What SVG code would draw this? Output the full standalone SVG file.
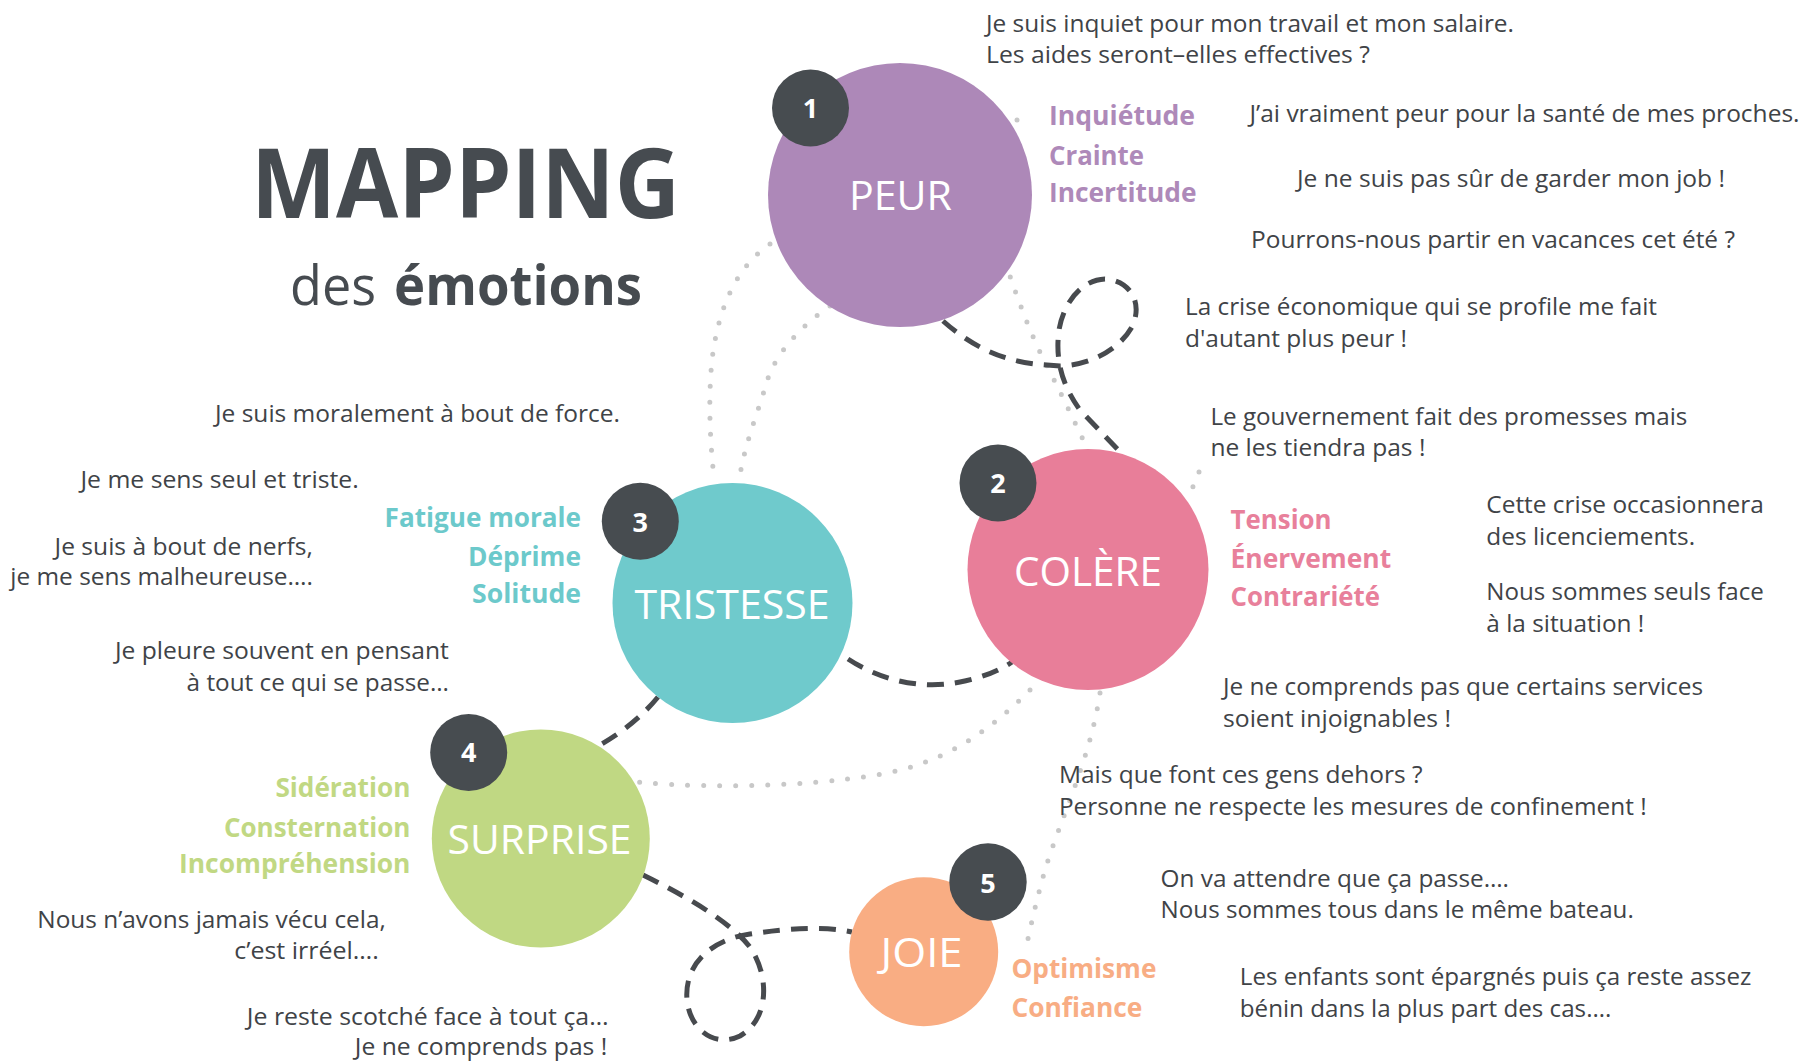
<svg xmlns="http://www.w3.org/2000/svg" width="1805" height="1061" viewBox="0 0 1805 1061">
<style>
text{font-family:"Open Sans","Liberation Sans",sans-serif}
.t{font-size:23px;fill:#404347}
.lb{font-size:26px;font-weight:700}
.cl{font-size:40px;fill:#ffffff;text-anchor:middle}
.num{font-size:27px;font-weight:700;fill:#ffffff;text-anchor:middle}
.badge{fill:#474C50}
.dash{fill:none;stroke:#474A4E;stroke-width:5;stroke-dasharray:17 11}
.dot{fill:none;stroke:#C8C8C8;stroke-width:5;stroke-linecap:round;stroke-dasharray:0 16}
.e{text-anchor:end}
.pu{fill:#AE89B9}.pk{fill:#E8809B}.tl{fill:#6CC9CB}.gr{fill:#C1D883}.or{fill:#F8AD84}
</style>
<rect width="1805" height="1061" fill="#ffffff"/>

<g id="title">
<text x="251" y="218" font-size="96" font-weight="700" fill="#464B50" textLength="429" lengthAdjust="spacingAndGlyphs">MAPPING</text>
<text x="290" y="305" font-size="55" fill="#464B50" textLength="86" lengthAdjust="spacingAndGlyphs">des</text>
<text x="394" y="305" font-size="55" font-weight="700" fill="#464B50" textLength="248" lengthAdjust="spacingAndGlyphs">émotions</text>
</g>

<g id="connectors">
<path class="dot" d="M 770 244 C 735 268 718 310 712 360 C 708 400 710 440 714 478"/>
<path class="dot" d="M 830 306 C 795 330 772 360 766 385 C 755 420 745 445 740 475"/>
<path class="dot" d="M 1005 262 C 1015 290 1028 330 1047 366 C 1062 395 1076 425 1088 450"/>
<path class="dot" d="M 1017 120 L 1022 134"/>
<path class="dot" d="M 1199 472 L 1190 494"/>
<path class="dot" d="M 1030 690 C 1000 720 960 755 900 770 C 840 785 720 790 636 782"/>
<path class="dot" d="M 1100 693 C 1090 760 1060 820 1045 870 C 1035 905 1030 930 1026 948"/>
<path class="dash" d="M 943 321 C 970 345 1000 360 1035 364 L 1060 366 C 1090 365 1120 350 1133 325 C 1143 300 1128 280 1105 279 C 1080 280 1063 305 1059 330 C 1055 360 1062 385 1080 410 L 1124 456"/>
<path class="dash" d="M 848 659 C 880 680 920 690 960 682 C 985 677 1000 670 1012 662"/>
<path class="dash" d="M 658 697 Q 635 725 600 745"/>
<path class="dash" d="M 643 875 C 690 898 735 925 752 950 C 770 980 768 1020 740 1036 C 715 1048 690 1030 687 1000 C 684 965 710 940 750 934 C 790 928 825 926 852 932"/>
</g>

<g id="peur">
<circle cx="900" cy="195" r="132" fill="#AD88B8"/>
<text class="cl" x="900.5" y="210" textLength="103" lengthAdjust="spacingAndGlyphs">PEUR</text>
<circle class="badge" cx="810.5" cy="108" r="38.5"/>
<text class="num" x="810.5" y="118">1</text>
</g>

<g id="colere">
<circle cx="1088" cy="569.5" r="120.5" fill="#E87E99"/>
<text class="cl" x="1088" y="586" textLength="148" lengthAdjust="spacingAndGlyphs">COLÈRE</text>
<circle class="badge" cx="998" cy="483" r="38.5"/>
<text class="num" x="998" y="493">2</text>
</g>

<g id="tristesse">
<circle cx="732.5" cy="603" r="120" fill="#6FCACC"/>
<text class="cl" x="732" y="619" textLength="195" lengthAdjust="spacingAndGlyphs">TRISTESSE</text>
<circle class="badge" cx="640.3" cy="521.3" r="38.5"/>
<text class="num" x="640.3" y="531.5">3</text>
</g>

<g id="surprise">
<circle cx="540.8" cy="838.5" r="109" fill="#C0D883"/>
<text class="cl" x="539.6" y="854" textLength="184" lengthAdjust="spacingAndGlyphs">SURPRISE</text>
<circle class="badge" cx="468.7" cy="752.5" r="38.5"/>
<text class="num" x="468.7" y="762">4</text>
</g>

<g id="joie">
<circle cx="923.7" cy="951.7" r="74.5" fill="#F9AD83"/>
<text class="cl" x="921.6" y="966.7" textLength="82" lengthAdjust="spacingAndGlyphs">JOIE</text>
<circle class="badge" cx="988" cy="882" r="38.7"/>
<text class="num" x="988" y="892.5">5</text>
</g>

<g id="peur-texts">
<text class="t" x="986" y="31.7" textLength="528" lengthAdjust="spacingAndGlyphs">Je suis inquiet pour mon travail et mon salaire.</text>
<text class="t" x="986" y="63" textLength="384" lengthAdjust="spacingAndGlyphs">Les aides seront–elles effectives ?</text>
<text class="lb pu" x="1049" y="125" textLength="146" lengthAdjust="spacingAndGlyphs">Inquiétude</text>
<text class="lb pu" x="1049" y="165" textLength="95" lengthAdjust="spacingAndGlyphs">Crainte</text>
<text class="lb pu" x="1049" y="201.7" textLength="147.5" lengthAdjust="spacingAndGlyphs">Incertitude</text>
<text class="t" x="1249.5" y="121.7" textLength="550" lengthAdjust="spacingAndGlyphs">J’ai vraiment peur pour la santé de mes proches.</text>
<text class="t" x="1297" y="186.7" textLength="428" lengthAdjust="spacingAndGlyphs">Je ne suis pas sûr de garder mon job !</text>
<text class="t" x="1251" y="248" textLength="484" lengthAdjust="spacingAndGlyphs">Pourrons-nous partir en vacances cet été ?</text>
<text class="t" x="1185" y="315" textLength="472" lengthAdjust="spacingAndGlyphs">La crise économique qui se profile me fait</text>
<text class="t" x="1185" y="346.7" textLength="222" lengthAdjust="spacingAndGlyphs">d'autant plus peur !</text>
</g>

<g id="colere-texts">
<text class="t" x="1210.4" y="425" textLength="477" lengthAdjust="spacingAndGlyphs">Le gouvernement fait des promesses mais</text>
<text class="t" x="1210.4" y="456" textLength="215" lengthAdjust="spacingAndGlyphs">ne les tiendra pas !</text>
<text class="lb pk" x="1230.6" y="529.3" textLength="101" lengthAdjust="spacingAndGlyphs">Tension</text>
<text class="lb pk" x="1230.6" y="568.3" textLength="160.5" lengthAdjust="spacingAndGlyphs">Énervement</text>
<text class="lb pk" x="1230.6" y="606" textLength="149.5" lengthAdjust="spacingAndGlyphs">Contrariété</text>
<text class="t" x="1486.3" y="513.3" textLength="277.5" lengthAdjust="spacingAndGlyphs">Cette crise occasionnera</text>
<text class="t" x="1486.3" y="545" textLength="208.8" lengthAdjust="spacingAndGlyphs">des licenciements.</text>
<text class="t" x="1486.3" y="600" textLength="277.5" lengthAdjust="spacingAndGlyphs">Nous sommes seuls face</text>
<text class="t" x="1486.3" y="631.7" textLength="158" lengthAdjust="spacingAndGlyphs">à la situation !</text>
<text class="t" x="1223" y="695" textLength="480" lengthAdjust="spacingAndGlyphs">Je ne comprends pas que certains services</text>
<text class="t" x="1223" y="726.7" textLength="228" lengthAdjust="spacingAndGlyphs">soient injoignables !</text>
<text class="t" x="1058.9" y="783.3" textLength="363.6" lengthAdjust="spacingAndGlyphs">Mais que font ces gens dehors ?</text>
<text class="t" x="1058.9" y="815" textLength="587.7" lengthAdjust="spacingAndGlyphs">Personne ne respecte les mesures de confinement !</text>
</g>

<g id="joie-texts">
<text class="t" x="1160.6" y="886.7" textLength="348.4" lengthAdjust="spacingAndGlyphs">On va attendre que ça passe….</text>
<text class="t" x="1160.6" y="918.3" textLength="473.2" lengthAdjust="spacingAndGlyphs">Nous sommes tous dans le même bateau.</text>
<text class="t" x="1239.8" y="985" textLength="511.5" lengthAdjust="spacingAndGlyphs">Les enfants sont épargnés puis ça reste assez</text>
<text class="t" x="1239.8" y="1016.7" textLength="371.5" lengthAdjust="spacingAndGlyphs">bénin dans la plus part des cas….</text>
<text class="lb or" x="1011.4" y="978.3" textLength="145" lengthAdjust="spacingAndGlyphs">Optimisme</text>
<text class="lb or" x="1011.4" y="1016.7" textLength="131" lengthAdjust="spacingAndGlyphs">Confiance</text>
</g>

<g id="tristesse-texts">
<text class="t e" x="620" y="421.7" textLength="405" lengthAdjust="spacingAndGlyphs">Je suis moralement à bout de force.</text>
<text class="t e" x="358.8" y="488" textLength="278.4" lengthAdjust="spacingAndGlyphs">Je me sens seul et triste.</text>
<text class="t e" x="312.9" y="555" textLength="258.3" lengthAdjust="spacingAndGlyphs">Je suis à bout de nerfs,</text>
<text class="t e" x="312.9" y="585" textLength="302.6" lengthAdjust="spacingAndGlyphs">je me sens malheureuse….</text>
<text class="lb tl e" x="581" y="526.7" textLength="196.4" lengthAdjust="spacingAndGlyphs">Fatigue morale</text>
<text class="lb tl e" x="581" y="566" textLength="113" lengthAdjust="spacingAndGlyphs">Déprime</text>
<text class="lb tl e" x="581" y="602.7" textLength="109" lengthAdjust="spacingAndGlyphs">Solitude</text>
<text class="t e" x="448.9" y="659.3" textLength="334" lengthAdjust="spacingAndGlyphs">Je pleure souvent en pensant</text>
<text class="t e" x="448.9" y="690.7" textLength="262.3" lengthAdjust="spacingAndGlyphs">à tout ce qui se passe…</text>
</g>

<g id="surprise-texts">
<text class="lb gr e" x="410.4" y="796.7" textLength="135" lengthAdjust="spacingAndGlyphs">Sidération</text>
<text class="lb gr e" x="410.4" y="836.7" textLength="186.5" lengthAdjust="spacingAndGlyphs">Consternation</text>
<text class="lb gr e" x="410.4" y="873.3" textLength="231.4" lengthAdjust="spacingAndGlyphs">Incompréhension</text>
<text class="t e" x="385.8" y="928.3" textLength="348.5" lengthAdjust="spacingAndGlyphs">Nous n’avons jamais vécu cela,</text>
<text class="t e" x="378.9" y="959.3" textLength="144.7" lengthAdjust="spacingAndGlyphs">c’est irréel….</text>
<text class="t e" x="608.5" y="1025" textLength="361.7" lengthAdjust="spacingAndGlyphs">Je reste scotché face à tout ça…</text>
<text class="t e" x="607.3" y="1055" textLength="252.5" lengthAdjust="spacingAndGlyphs">Je ne comprends pas !</text>
</g>
</svg>
